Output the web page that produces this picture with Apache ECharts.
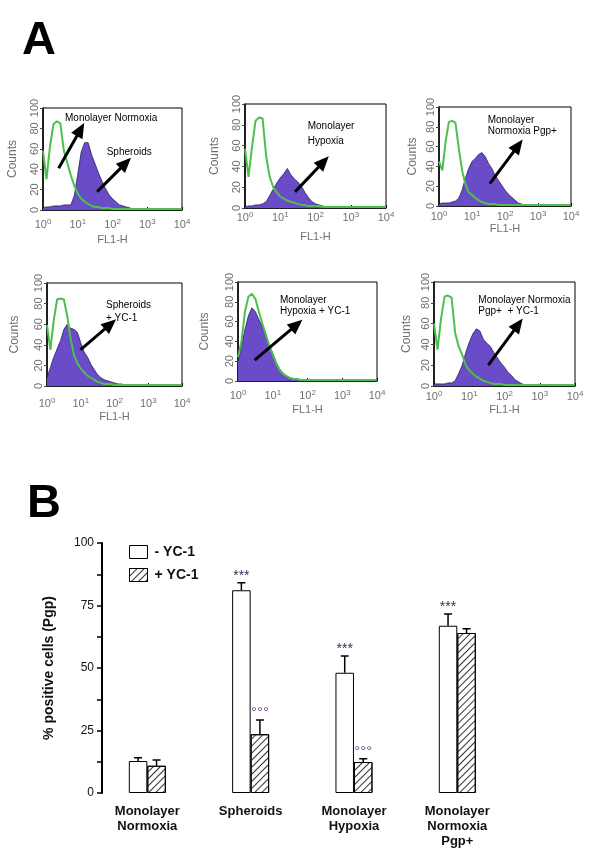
<!DOCTYPE html>
<html><head><meta charset="utf-8">
<script src="https://cdn.jsdelivr.net/npm/echarts@6/dist/echarts.min.js"></script>
<style>html,body{margin:0;padding:0;background:#fff}#c{width:600px;height:859px}</style>
</head><body><div id="c"></div>
<script>
// ---------- Panel A data (x = log10 of FL1-H channel) ----------
const EXP = [0,0.1,0.2,0.3,0.4,0.5,0.6,0.7,0.8,0.9,1.0,1.1,1.2,1.3,1.4,1.5,1.6,1.7,1.8,1.9,2.0,
             2.1,2.2,2.3,2.4,2.5,2.6,2.7,2.8,2.9,3.0,3.1,3.2,3.3,3.4,3.5,3.6,3.7,3.8,3.9,4.0];
const X_TICKS = [0,1,2,3,4];
const Y_TICKS = [0,20,40,60,80,100];

const GREEN_1 = [58,30,62,84,87,85,58,46,34,24,16,11,8,6,4,3,3,2,2,2,1,1,1,1,1,1,1,1,1,1,1,1,1,1,1,1,1,1,1,1,1];
const PURPLE_1 = [2,3,3,4,4,4,5,5,5,14,35,57,66,66,54,45,36,28,21,15,11,8,5,4,3,2,1,1,1,0.5,0.5,0.5,0.5,0.5,0.5,0.5,0.5,0.5,0.5,0.5,0.5];
const GREEN_2 = [57,30,59,84,87,86,50,30,20,15,11,9,7,6,5,4,3,3,2,2,2,2,1,1,1,1,1,1,1,1,1,1,1,1,1,1,1,1,1,1,1];
const PURPLE_2 = [1,2,2,3,3,4,6,12,18,24,29,33,38,32,28,25,21,15,10,6,4,3,2,1,1,0.5,0.5,0.5,0.5,0.5,0.5,0.5,0.5,0.5,0.5,0.5,0.5,0.5,0.5,0.5,0.5];
const GREEN_3 = [45,36,65,85,86,84,58,36,22,14,11,8,6,4,3,2,2,2,1,1,1,1,1,1,1,1,1,1,1,1,1,1,1,1,1,1,1,1,1,1,1];
const PURPLE_3 = [2,3,3,3,4,5,8,16,28,38,45,48,52,54,50,43,38,31,26,21,16,12,9,6,3,2,1,0.5,0.5,0.5,0.5,0.5,0.5,0.5,0.5,0.5,0.5,0.5,0.5,0.5,0.5];
const GREEN_4 = [59,35,64,84,85,84,68,46,30,22,17,13,10,8,6,4,3,2,2,2,1,1,1,1,1,1,1,1,1,1,1,1,1,1,1,1,1,1,1,1,1];
const PURPLE_4 = [8,18,28,36,44,55,60,56,55,52,42,33,28,21,16,11,8,6,5,4,3,2,2,1,1,0.5,0.5,0.5,0.5,0.5,0.5,0.5,0.5,0.5,0.5,0.5,0.5,0.5,0.5,0.5,0.5];
const GREEN_5 = [24,40,70,85,88,83,70,58,47,36,27,18,11,7,5,3,2,2,1,1,1,1,1,1,1,1,1,1,1,1,1,1,1,1,1,1,1,1,1,1,1];
const PURPLE_5 = [20,35,52,66,74,70,62,55,46,36,28,19,12,8,5,3,2,2,1,1,0.5,0.5,0.5,0.5,0.5,0.5,0.5,0.5,0.5,0.5,0.5,0.5,0.5,0.5,0.5,0.5,0.5,0.5,0.5,0.5,0.5];
const GREEN_6 = [60,35,65,86,87,85,51,38,30,20,15,12,9,7,5,4,3,2,2,2,1,1,1,1,1,1,1,1,1,1,1,1,1,1,1,1,1,1,1,1,1];
const PURPLE_6 = [2,2,2,2,3,3,5,12,20,32,42,50,55,53,45,41,38,32,27,22,18,13,10,6,4,2,1,0.5,0.5,0.5,0.5,0.5,0.5,0.5,0.5,0.5,0.5,0.5,0.5,0.5,0.5];

// arrows [x0, y0, x1, y1] in data coordinates (log10 FL1-H, counts)
const ARROWS_1 = [[0.45,41,1.08,79],[1.56,18,2.38,46]];
const ARROWS_2 = [[1.42,15.5,2.23,44.5]];
const ARROWS_3 = [[1.54,22.5,2.4,61]];
const ARROWS_4 = [[0.99,35,1.88,60]];
const ARROWS_5 = [[0.48,21,1.69,57]];
const ARROWS_6 = [[1.54,20,2.39,59]];

const NOTES_1 = ['Monolayer Normoxia','Spheroids'];
const NOTES_2 = ['Monolayer','Hypoxia'];
const NOTES_3 = ['Monolayer','Normoxia Pgp+'];
const NOTES_4 = ['Spheroids','+ YC-1'];
const NOTES_5 = ['Monolayer','Hypoxia + YC-1'];
const NOTES_6 = ['Monolayer Normoxia','Pgp+  + YC-1'];

// ---------- Panel B data ----------
const CATEGORIES = ['Monolayer\nNormoxia','Spheroids','Monolayer\nHypoxia','Monolayer\nNormoxia\nPgp+'];
const MINUS_YC1 = [12.8, 81.1, 48.1, 66.9];
const MINUS_SD = [1.3, 3.0, 6.7, 4.7];
const PLUS_YC1 = [10.9, 23.5, 12.4, 64.0];
const PLUS_SD = [2.3, 5.7, 1.3, 1.7];
const SIG_MINUS = ['', '***', '***', '***'];
const SIG_PLUS = ['', '°°°', '°°°', ''];
const B_TICKS = [0, 25, 50, 75, 100];

// ---------- layout ----------
const PANELS = [
  {g:GREEN_1,p:PURPLE_1,a:ARROWS_1,n:NOTES_1,left:43,top:108,w:139,h:102,lm:8,ng:24,cg:24,notes:[[65,118],[106.7,152.7]]},
  {g:GREEN_2,p:PURPLE_2,a:ARROWS_2,n:NOTES_2,left:245,top:104,w:141,h:104,lm:3,ng:23,cg:24,notes:[[307.7,126.7],[307.7,141]]},
  {g:GREEN_3,p:PURPLE_3,a:ARROWS_3,n:NOTES_3,left:439,top:107,w:132,h:99,lm:4,ng:14,cg:20,notes:[[487.7,120],[487.7,131.7]]},
  {g:GREEN_4,p:PURPLE_4,a:ARROWS_4,n:NOTES_4,left:47,top:283,w:135,h:103,lm:11,ng:25,cg:26,notes:[[106,305],[106,318.3]]},
  {g:GREEN_5,p:PURPLE_5,a:ARROWS_5,n:NOTES_5,left:238,top:282,w:139,h:99,lm:8,ng:23,cg:27,notes:[[280,300],[280,311.7]]},
  {g:GREEN_6,p:PURPLE_6,a:ARROWS_6,n:NOTES_6,left:434,top:282,w:141,h:104,lm:4,ng:18,cg:21,notes:[[478.3,300],[478.3,311.7]]}
];
const GRAY = '#707070';
const FONT = 'Liberation Sans, Arial, sans-serif';

const grids = [], xAxes = [], yAxes = [], series = [], graphics = [];

PANELS.forEach((P, i) => {
  grids.push({left:P.left, top:P.top, width:P.w, height:P.h, show:true, borderColor:'#000', borderWidth:1, backgroundColor:'transparent'});
  xAxes.push({
    gridIndex:i, type:'value', min:X_TICKS[0], max:X_TICKS[X_TICKS.length-1], interval:1,
    axisLine:{show:true, onZero:false, lineStyle:{color:'#000', width:1.5}},
    axisTick:{show:true, inside:true, length:3, lineStyle:{color:'#000'}},
    minorTick:{show:true, splitNumber:4, length:2, lineStyle:{color:'#333'}},
    splitLine:{show:false},
    axisLabel:{margin:P.lm, formatter: v => '{b|10}{s|' + v + '}',
      rich:{b:{fontSize:11, color:GRAY, fontFamily:FONT, lineHeight:14},
            s:{fontSize:8, color:GRAY, fontFamily:FONT, verticalAlign:'top', lineHeight:9}}},
    name:'FL1-H', nameLocation:'middle', nameGap:P.ng,
    nameTextStyle:{color:GRAY, fontSize:11, fontFamily:FONT}
  });
  yAxes.push({
    gridIndex:i, type:'value', min:Y_TICKS[0], max:Y_TICKS[Y_TICKS.length-1], interval:20,
    axisLine:{show:true, lineStyle:{color:'#000', width:1.5}},
    axisTick:{show:true, length:3, lineStyle:{color:'#444'}},
    splitLine:{show:false},
    axisLabel:{rotate:90, color:GRAY, fontSize:11, fontFamily:FONT, margin:3},
    name:'Counts', nameLocation:'middle', nameRotate:90, nameGap:P.cg,
    nameTextStyle:{color:GRAY, fontSize:12, fontFamily:FONT}
  });
  series.push({
    type:'line', xAxisIndex:i, yAxisIndex:i, symbol:'none', z:2,
    data: EXP.map((x, k) => [x, P.p[k]]),
    lineStyle:{color:'#2a2060', width:0.8},
    areaStyle:{color:'#6a4bc8', opacity:1}
  });
  series.push({
    type:'line', xAxisIndex:i, yAxisIndex:i, symbol:'none', z:3,
    data: EXP.map((x, k) => [x, P.g[k]]),
    lineStyle:{color:'#4cbf4c', width:2},
    markLine:{silent:true, symbol:['none','triangle'], symbolSize:[13,15],
      lineStyle:{color:'#000', width:3, type:'solid'}, itemStyle:{color:'#000'},
      label:{show:false}, emphasis:{disabled:true},
      data: P.a.map(a => [{coord:[a[0],a[1]]},{coord:[a[2],a[3]]}])}
  });
  P.n.forEach((t, k) => {
    graphics.push({type:'text', x:P.notes[k][0], y:P.notes[k][1],
      style:{text:t, fontSize:10, fontFamily:FONT, fill:'#000', verticalAlign:'middle'}});
  });
});

// Panel B
const BI = PANELS.length;
const BAR_W = 18.5;
grids.push({left:95.65, width:413.3, top:543, height:250});
xAxes.push({gridIndex:BI, type:'category', data:CATEGORIES,
  axisLine:{show:false}, axisTick:{show:false},
  axisLabel:{interval:0, fontSize:13, fontWeight:'bold', color:'#111', fontFamily:FONT, lineHeight:15, margin:11}});
yAxes.push({gridIndex:BI, type:'value', min:0, max:100, interval:12.5, offset:-6.35,
  axisLine:{show:true, lineStyle:{color:'#000', width:2}},
  axisTick:{show:true, length:5, lineStyle:{color:'#000', width:1.5}},
  splitLine:{show:false},
  axisLabel:{formatter: v => B_TICKS.indexOf(v) >= 0 ? String(v) : '', fontSize:12, color:'#111', fontFamily:FONT, margin:8},
  name:'% positive cells (Pgp)', nameLocation:'middle', nameRotate:90, nameGap:46,
  nameTextStyle:{fontSize:14, fontWeight:'bold', color:'#111', fontFamily:FONT}});

series.push({name:'- YC-1', type:'bar', xAxisIndex:BI, yAxisIndex:BI, data:MINUS_YC1,
  barWidth:BAR_W, barGap:'0%', itemStyle:{color:'#fff', borderColor:'#000', borderWidth:1}});
series.push({name:'+ YC-1', type:'bar', xAxisIndex:BI, yAxisIndex:BI, data:PLUS_YC1,
  barWidth:BAR_W, barGap:'0%', itemStyle:{color:'#fff', borderColor:'#000', borderWidth:1,
    decal:{symbol:'rect', symbolSize:1, dashArrayX:[1,0], dashArrayY:[1,4], rotation:-Math.PI/4, color:'#333'}}});

function errSeries(vals, sds, sigs, side, sigColor, sigSize, sigDy) {
  return {type:'custom', xAxisIndex:BI, yAxisIndex:BI, z:5, silent:true,
    data: vals.map((v, i) => [i, v, sds[i]]),
    renderItem: (params, api) => {
      const i = api.value(0), v = api.value(1), sd = api.value(2);
      const base = api.coord([i, v]), top = api.coord([i, v + sd]);
      const x = base[0] + side * BAR_W / 2;
      const sig = sigs[i];
      const ch = [
        {type:'line', shape:{x1:x, y1:base[1], x2:x, y2:top[1]}, style:{stroke:'#000', lineWidth:1.5}},
        {type:'line', shape:{x1:x-4, y1:top[1], x2:x+4, y2:top[1]}, style:{stroke:'#000', lineWidth:1.5}}
      ];
      if (sig) ch.push({type:'text', x:x, y:top[1] + sigDy,
        style:{text:sig, fontSize:sigSize, fontFamily:FONT, fill:sigColor, align:'center', verticalAlign:'middle'}});
      return {type:'group', children:ch};
    }};
}
series.push(errSeries(MINUS_YC1, MINUS_SD, SIG_MINUS, -1, '#2d3552', 14, -7));
series.push(errSeries(PLUS_YC1, PLUS_SD, SIG_PLUS, 1, '#7a4a9a', 15, -7));

graphics.push({type:'text', x:22, y:41, style:{text:'A', fontSize:47, fontWeight:'bold', fontFamily:FONT, fill:'#000', verticalAlign:'middle'}});
graphics.push({type:'text', x:27, y:504, style:{text:'B', fontSize:47, fontWeight:'bold', fontFamily:FONT, fill:'#000', verticalAlign:'middle'}});

const chart = echarts.init(document.getElementById('c'), null, {renderer:'canvas'});
chart.setOption({
  animation:false, backgroundColor:'#fff',
  grid:grids, xAxis:xAxes, yAxis:yAxes, series:series, graphic:graphics,
  legend:{data:['- YC-1','+ YC-1'], orient:'vertical', left:124, top:540, itemWidth:18, itemHeight:13, itemGap:9,
    icon:'rect', selectedMode:false,
    itemStyle:{borderColor:'#000', borderWidth:1},
    textStyle:{fontSize:14, fontWeight:'bold', color:'#111', fontFamily:FONT, padding:[0,0,0,2]}}
});
</script></body></html>
